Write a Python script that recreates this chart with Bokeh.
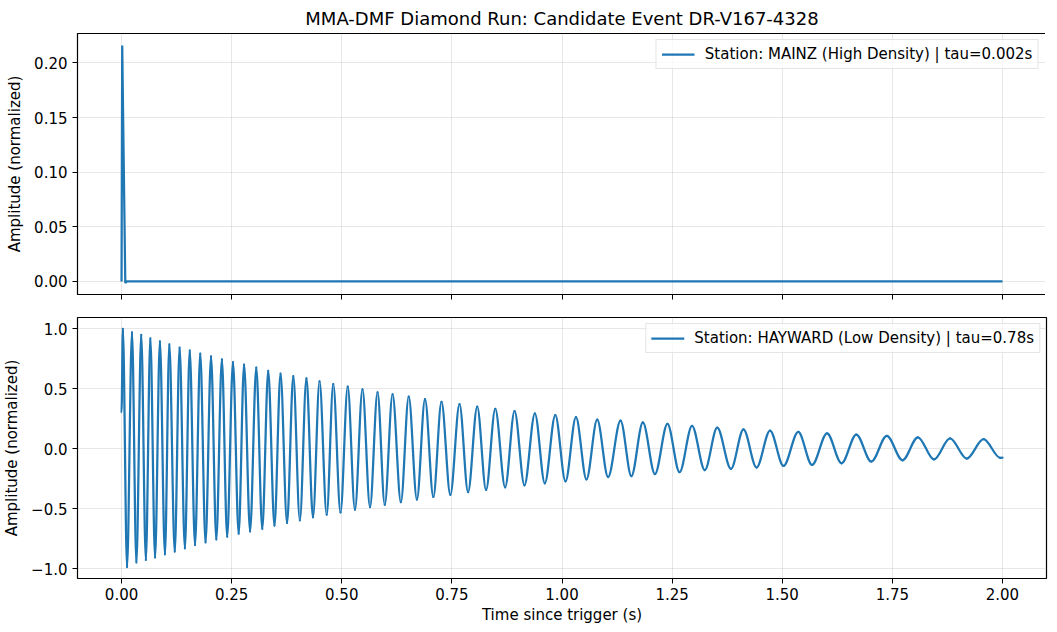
from bokeh.plotting import figure
from bokeh.models import FixedTicker, Range1d, Legend, LegendItem
from bokeh.layouts import column
from bokeh.embed import file_html
from bokeh.resources import INLINE

TITLE = "MMA-DMF Diamond Run: Candidate Event DR-V167-4328"
top_label = "Station: MAINZ (High Density) | tau=0.002s"
bottom_label = "Station: HAYWARD (Low Density) | tau=0.78s"
x_title = "Time since trigger (s)"
y_title = "Amplitude (normalized)"

# MAINZ station
mainz_t = [0.0, 0.0015, 0.0085, 0.012, 2.0]
mainz_amp = [0.0, 0.216, -0.0015, 0.0, 0.0]

# HAYWARD station: start, alternating peaks/troughs, end
hayward_t = [
    0.0, 0.0030, 0.0125, 0.0237, 0.0337, 0.0447, 0.0552, 0.0654, 0.0761, 0.0871,
    0.0985, 0.1085, 0.1208, 0.1318, 0.1438, 0.1548, 0.1668, 0.1787, 0.1907, 0.2032,
    0.2152, 0.2278, 0.2398, 0.2530, 0.2659, 0.2782, 0.2918, 0.3059, 0.3195, 0.3330,
    0.3472, 0.3609, 0.3758, 0.3899, 0.4048, 0.4198, 0.4346, 0.4495, 0.4658, 0.4807,
    0.4971, 0.5135, 0.5299, 0.5470, 0.5641, 0.5812, 0.5976, 0.6153, 0.6342, 0.6520,
    0.6706, 0.6890, 0.7079, 0.7264, 0.7465, 0.7673, 0.7867, 0.8075, 0.8276, 0.8485,
    0.8709, 0.8923, 0.9147, 0.9385, 0.9610, 0.9848, 1.0079, 1.0317, 1.0555, 1.0799,
    1.1046, 1.1329, 1.1575, 1.1836, 1.2110, 1.2394, 1.2669, 1.2952, 1.3242, 1.3524,
    1.3836, 1.4120, 1.4417, 1.4723, 1.5029, 1.5364, 1.5677, 1.6018, 1.6347, 1.6682,
    1.7023, 1.7374, 1.7731, 1.8080, 1.8445, 1.8810, 1.9190, 1.9570, 1.9950, 2.0,
]
hayward_amp = [
    0.307, 1.000, -0.985, 0.971, -0.946, 0.950, -0.925, 0.922, -0.905, 0.897,
    -0.878, 0.872, -0.856, 0.843, -0.828, 0.820, -0.801, 0.793, -0.779, 0.771,
    -0.754, 0.746, -0.732, 0.724, -0.707, 0.703, -0.688, 0.678, -0.666, 0.651,
    -0.639, 0.628, -0.617, 0.606, -0.595, 0.587, -0.570, 0.562, -0.548, 0.540,
    -0.529, 0.518, -0.507, 0.496, -0.485, 0.472, -0.466, 0.455, -0.444, 0.435,
    -0.422, 0.414, -0.400, 0.391, -0.383, 0.373, -0.361, 0.353, -0.342, 0.334,
    -0.320, 0.315, -0.303, 0.295, -0.287, 0.282, -0.270, 0.265, -0.254, 0.243,
    -0.235, 0.235, -0.227, 0.221, -0.210, 0.208, -0.194, 0.191, -0.177, 0.177,
    -0.167, 0.163, -0.155, 0.153, -0.142, 0.142, -0.134, 0.130, -0.120, 0.120,
    -0.106, 0.109, -0.095, 0.097, -0.088, 0.087, -0.081, 0.081, -0.075, -0.073,
]

x_ticks = [0.0, 0.25, 0.5, 0.75, 1.0, 1.25, 1.5, 1.75, 2.0]
x_tick_labels = ["0.00", "0.25", "0.50", "0.75", "1.00", "1.25", "1.50", "1.75", "2.00"]
top_y_ticks = [0.0, 0.05, 0.10, 0.15, 0.20]
top_y_tick_labels = ["0.00", "0.05", "0.10", "0.15", "0.20"]
bot_y_ticks = [-1.0, -0.5, 0.0, 0.5, 1.0]
bot_y_tick_labels = ["\u22121.0", "\u22120.5", "0.0", "0.5", "1.0"]

BLUE = "#1f77b4"
FONT = "DejaVu Sans"
FW = 969
FH = 261

x_range = Range1d(-0.1, 2.1)


def style(p, yticks, ylabels):
    p.background_fill_color = "white"
    p.border_fill_color = "white"
    p.outline_line_color = "black"
    p.outline_line_width = 1.2
    p.grid.grid_line_color = "#b0b0b0"
    p.grid.grid_line_alpha = 0.3
    p.grid.grid_line_width = 1
    for ax in (p.xaxis[0], p.yaxis[0]):
        ax.axis_line_color = None
        ax.major_tick_line_color = "black"
        ax.major_tick_line_width = 1
        ax.major_tick_out = 5
        ax.major_tick_in = 0
        ax.minor_tick_line_color = None
        ax.major_label_text_font = FONT
        ax.major_label_text_font_size = "15px"
        ax.major_label_text_color = "black"
        ax.axis_label_text_font = FONT
        ax.axis_label_text_font_size = "15px"
        ax.axis_label_text_font_style = "normal"
        ax.axis_label_text_color = "black"
    p.xaxis.ticker = FixedTicker(ticks=x_ticks)
    p.yaxis.ticker = FixedTicker(ticks=yticks)
    p.yaxis.major_label_overrides = dict(zip(yticks, ylabels))
    p.yaxis.axis_label = y_title
    p.yaxis.major_label_standoff = 5
    p.yaxis.axis_label_standoff = 7


def make_legend(p, label, renderer):
    lg = Legend(items=[LegendItem(label=label, renderers=[renderer])], location="top_right")
    lg.label_text_font = FONT
    lg.label_text_font_size = "15px"
    lg.label_text_color = "black"
    lg.margin = 6
    lg.padding = 5
    lg.spacing = 0
    lg.glyph_width = 33
    lg.glyph_height = 16
    lg.label_height = 16
    lg.label_standoff = 10
    lg.border_line_color = "#cccccc"
    lg.border_line_width = 1
    lg.background_fill_color = "white"
    lg.background_fill_alpha = 0.8
    p.add_layout(lg)


# --- top panel ---
p1 = figure(frame_width=FW, frame_height=FH, x_range=x_range,
            y_range=Range1d(-0.012, 0.227), output_backend="svg",
            toolbar_location=None, min_border_left=70, min_border_right=2,
            min_border_top=26, min_border_bottom=13, title=TITLE)
p1.title.align = "center"
p1.title.text_font = FONT
p1.title.text_font_size = "18px"
p1.title.text_font_style = "normal"
p1.title.text_color = "black"
p1.title.standoff = 10
style(p1, top_y_ticks, top_y_tick_labels)
# shared x axis: tick marks only, no tick labels on the upper panel
p1.xaxis.major_label_text_font_size = "1px"
p1.xaxis.major_label_text_color = None
p1.xaxis.major_label_standoff = 0
r1 = p1.line(mainz_t, mainz_amp, line_color=BLUE, line_width=2.25)
make_legend(p1, top_label, r1)

# --- bottom panel ---
p2 = figure(frame_width=FW, frame_height=FH, x_range=x_range,
            y_range=Range1d(-1.08, 1.095), output_backend="svg",
            toolbar_location=None, min_border_left=70, min_border_right=2,
            min_border_top=10, min_border_bottom=10)
style(p2, bot_y_ticks, bot_y_tick_labels)
p2.xaxis.major_label_overrides = dict(zip(x_ticks, x_tick_labels))
p2.xaxis.axis_label = x_title
p2.xaxis.major_label_standoff = 4
p2.xaxis.axis_label_standoff = 3

x0 = hayward_t[:-1]
x1 = hayward_t[1:]
y0 = hayward_amp[:-1]
y1 = hayward_amp[1:]
cx0 = [a + (b - a) / 3.0 for a, b in zip(x0, x1)]
cx1 = [b - (b - a) / 3.0 for a, b in zip(x0, x1)]
r2 = p2.bezier(x0=x0, y0=y0, x1=x1, y1=y1, cx0=cx0, cy0=y0, cx1=cx1, cy1=y1,
               line_color=BLUE, line_width=2.25, line_cap="round")
make_legend(p2, bottom_label, r2)

layout = column(p1, p2, spacing=0)
open("out.html", "w").write(file_html(layout, INLINE))
